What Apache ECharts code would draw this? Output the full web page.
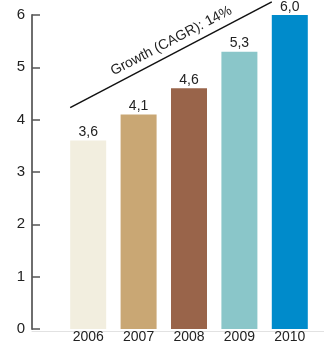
<!DOCTYPE html>
<html>
<head>
<meta charset="utf-8">
<script src="https://cdn.jsdelivr.net/npm/echarts@6/dist/echarts.min.js"></script>
<style>
  html, body { margin: 0; padding: 0; background: #fff; }
  #chart { width: 324px; height: 344px; }
</style>
</head>
<body>
<div id="chart"></div>
<script>
// data
var years = ['2006', '2007', '2008', '2009', '2010'];
var values = [3.6, 4.1, 4.6, 5.3, 6.0];
var barColors = ['#F2EEDF', '#C9A774', '#99644A', '#8AC6C9', '#008BCB'];
var yTicks = [0, 1, 2, 3, 4, 5, 6];
// trend line ends (category index, value)
var trendStart = [0, 4.23];
var trendEnd = [4, 6.25];
var trendLabel = 'Growth (CAGR): 14%';

var font = '"Liberation Sans", Arial, sans-serif';
var chart = echarts.init(document.getElementById('chart'));

var option = {
  animation: false,
  grid: [
    { left: 63, right: 9, top: 15, bottom: 13 },
    { left: 32, right: 0, top: 15, bottom: 13 }
  ],
  xAxis: [
    {
      type: 'category',
      gridIndex: 0,
      data: years,
      axisLine: { show: false },
      axisTick: { show: false },
      axisLabel: { color: '#222', fontSize: 14, fontFamily: font, margin: 1 }
    },
    {
      type: 'value',
      gridIndex: 1,
      min: 0,
      max: 1,
      axisLine: { show: true, onZero: false, lineStyle: { color: '#e2e2e2', width: 1 } },
      axisTick: { show: false },
      axisLabel: { show: false },
      splitLine: { show: false }
    }
  ],
  yAxis: [
    {
      type: 'value',
      gridIndex: 0,
      min: yTicks[0],
      max: yTicks[yTicks.length - 1],
      interval: 1,
      offset: 31,
      axisLine: { show: true, lineStyle: { color: '#6e6e6e', width: 2 } },
      axisTick: { show: true, inside: true, length: 8, lineStyle: { color: '#555', width: 1.5 } },
      axisLabel: { color: '#222', fontSize: 15, fontFamily: font, margin: 7 },
      splitLine: { show: false }
    },
    {
      type: 'value',
      gridIndex: 1,
      show: false
    }
  ],
  series: [
    {
      type: 'bar',
      xAxisIndex: 0,
      yAxisIndex: 0,
      barWidth: 36,
      data: values.map(function (v, i) {
        return { value: v, itemStyle: { color: barColors[i] } };
      }),
      label: {
        show: true,
        position: 'top',
        distance: 1,
        color: '#222',
        fontSize: 14,
        fontFamily: font,
        formatter: function (p) { return p.value.toFixed(1).replace('.', ','); }
      }
    }
  ]
};
chart.setOption(option);

// growth line, placed from data coordinates, starting at bar left edges
var a = chart.convertToPixel({ gridIndex: 0 }, trendStart);
var b = chart.convertToPixel({ gridIndex: 0 }, trendEnd);
a[0] -= 18; b[0] -= 18;
var ang = Math.atan2(a[1] - b[1], b[0] - a[0]);
var mx = (a[0] + b[0]) / 2 + 5 * Math.cos(ang);
var my = (a[1] + b[1]) / 2 - 5 * Math.sin(ang);
chart.setOption({
  graphic: [
    {
      type: 'line',
      shape: { x1: a[0], y1: a[1], x2: b[0], y2: b[1] },
      style: { stroke: '#111', lineWidth: 1.5 }
    },
    {
      type: 'text',
      x: mx - 13 * Math.sin(ang) + 2,
      y: my - 13 * Math.cos(ang),
      rotation: ang,
      style: {
        text: trendLabel,
        fill: '#222',
        font: '14px ' + font,
        align: 'center',
        verticalAlign: 'middle'
      }
    }
  ]
});
</script>
</body>
</html>
